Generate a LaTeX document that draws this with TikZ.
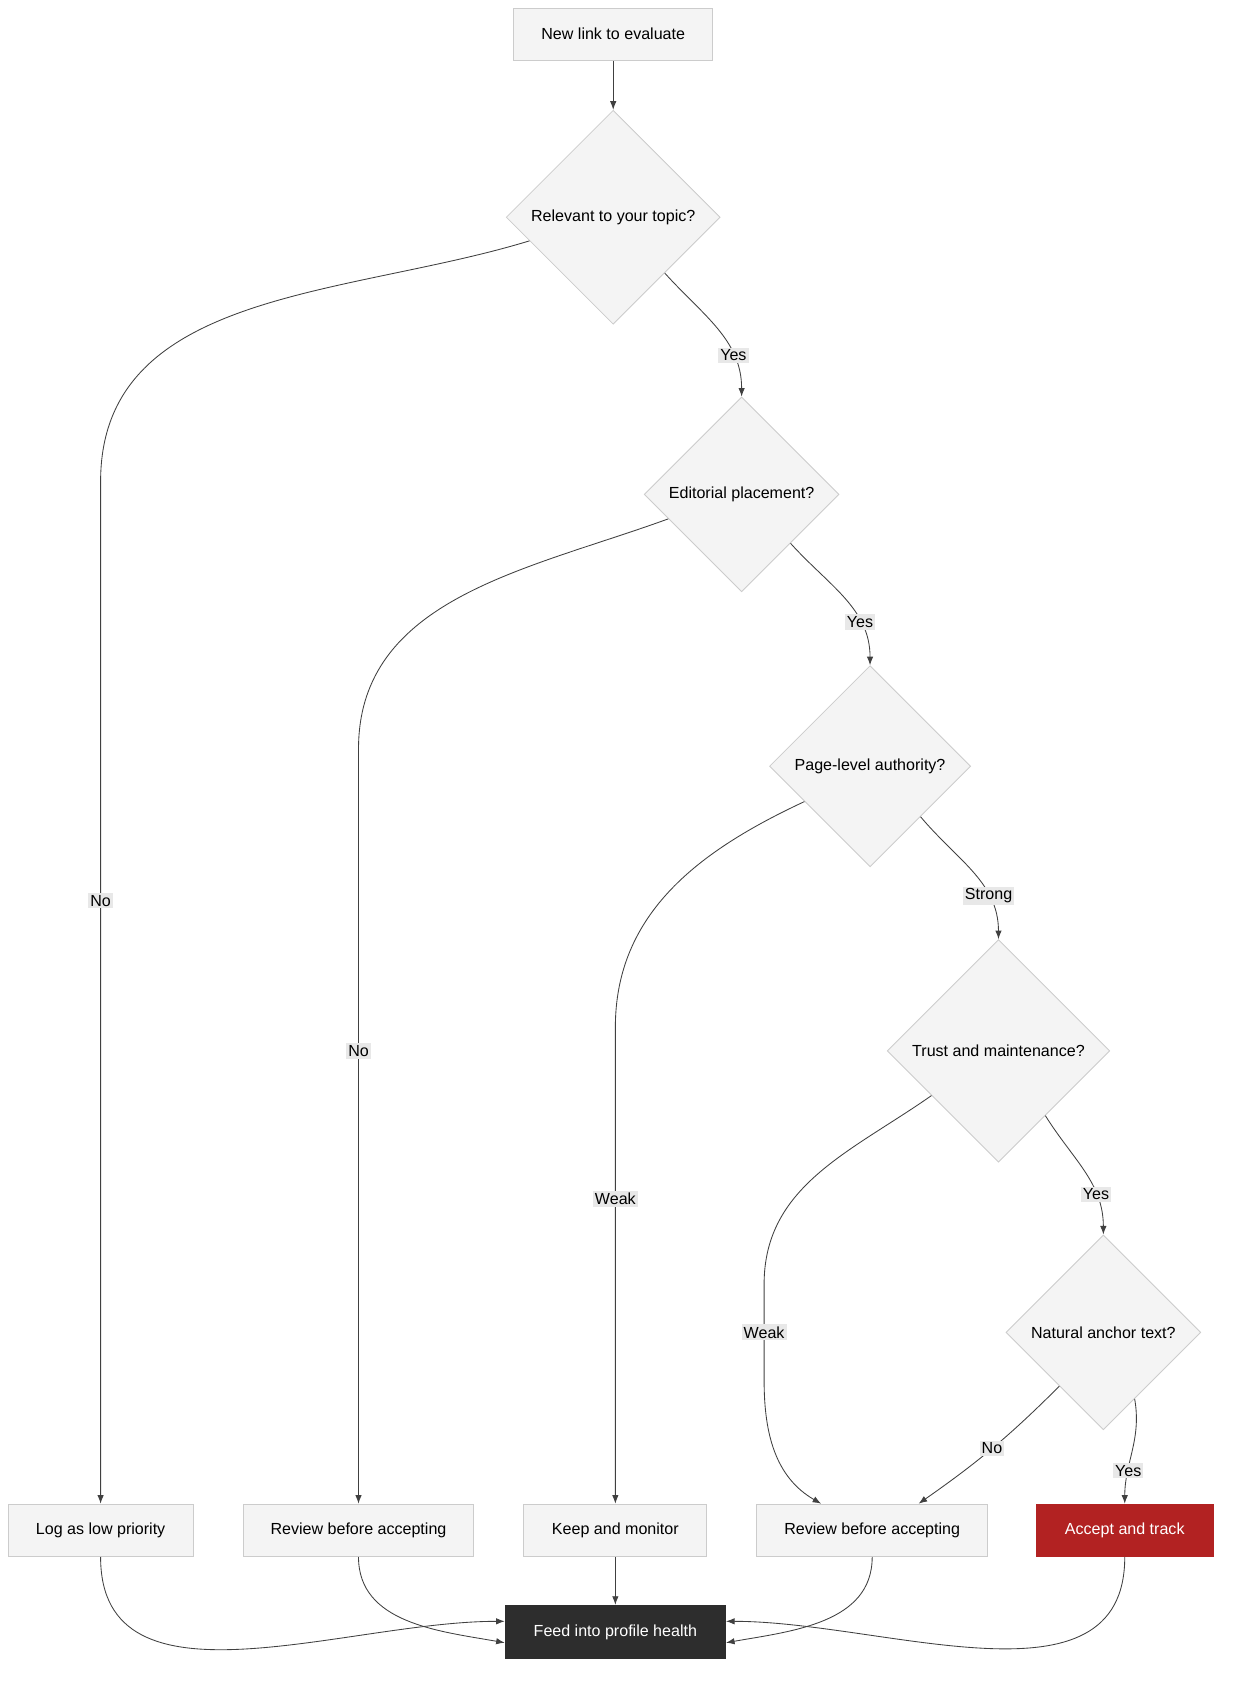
\documentclass[tikz,border=0pt]{standalone}
\usepackage{fontspec}
\setmainfont{Liberation Sans}
\usetikzlibrary{shapes.geometric,arrows.meta,positioning,calc}
\definecolor{boxfill}{HTML}{F4F4F4}
\definecolor{boxline}{HTML}{CCCCCC}
\definecolor{darkbox}{HTML}{2D2D2D}
\definecolor{redbox}{HTML}{B22222}
\definecolor{lblfill}{HTML}{E8E8E8}
\tikzset{
  stage/.style={rectangle,draw=boxline,fill=boxfill,minimum height=24.5pt,inner sep=0pt,font=\fontsize{7.5}{9}\selectfont},
  ask/.style={diamond,draw=boxline,fill=boxfill,aspect=1,inner sep=0pt,font=\fontsize{7.5}{9}\selectfont},
  link/.style={draw=black!75,line width=0.4pt,-{Latex[length=4pt,width=3pt]}},
  tag/.style={fill=lblfill,inner sep=1pt,font=\fontsize{7.5}{9}\selectfont}
}
\begin{document}
\begin{tikzpicture}[x=0.5pt,y=-0.5pt]
  \useasboundingbox (0,0) rectangle (1160,1582);

  \node[stage,minimum width=93pt] (start) at (573,32) {New link to evaluate};
  \node[ask,minimum size=100pt] (d1) at (573,203) {Relevant to your topic?};
  \node[ask,minimum size=91pt] (d2) at (693,462) {Editorial placement?};
  \node[ask,minimum size=94pt] (d3) at (813,716) {Page-level authority?};
  \node[ask,minimum size=104pt] (d4) at (933,982) {Trust and maintenance?};
  \node[ask,minimum size=91pt] (d5) at (1031,1245) {Natural anchor text?};

  \node[stage,minimum width=86.5pt] (low) at (94,1430) {Log as low priority};
  \node[stage,minimum width=107.5pt] (rev1) at (335,1430) {Review before accepting};
  \node[stage,minimum width=85.5pt] (keep) at (575,1430) {Keep and monitor};
  \node[stage,minimum width=108pt] (rev2) at (815,1430) {Review before accepting};
  \node[stage,minimum width=82.5pt,fill=redbox,draw=redbox,text=white] (acc) at (1051,1430) {Accept and track};
  \node[stage,minimum width=103pt,minimum height=25pt,fill=darkbox,draw=darkbox,text=white] (feed) at (575,1525) {Feed into profile health};

  % bends of the long branches
  \coordinate (k1) at (94,450);
  \coordinate (k2) at (335,700);
  \coordinate (k3) at (575,960);
  \coordinate (k4) at (714,1200);
  \coordinate (k5) at (714,1290);

  \draw[link] (start) -- (d1.north);

  \draw[link] ($(d1.west)!0.22!(d1.south)$) to[out=197,in=90] (k1) -- node[tag,pos=0.41]{No} (low.north);
  \draw[link] ($(d1.east)!0.52!(d1.south)$) to[out=-48,in=90] node[tag,pos=0.72]{Yes} (d2.north);

  \draw[link] ($(d2.west)!0.25!(d2.south)$) to[out=200,in=90] (k2) -- node[tag,pos=0.4]{No} (rev1.north);
  \draw[link] ($(d2.east)!0.5!(d2.south)$) to[out=-48,in=90] node[tag,pos=0.7]{Yes} (d3.north);

  \draw[link] ($(d3.west)!0.35!(d3.south)$) to[out=205,in=90] (k3) -- node[tag,pos=0.36]{Weak} (keep.north);
  \draw[link] ($(d3.east)!0.5!(d3.south)$) to[out=-50,in=90] node[tag,pos=0.7]{Strong} (d4.north);

  \draw[link] ($(d4.west)!0.4!(d4.south)$) to[out=215,in=90] (k4) -- node[tag]{Weak} (k5) to[out=-90,in=150] ($(rev2.north west)!0.28!(rev2.north east)$);
  \draw[link] ($(d4.east)!0.58!(d4.south)$) to[out=-58,in=90] node[tag,pos=0.7]{Yes} (d5.north);

  \draw[link] ($(d5.south)!0.45!(d5.west)$) to[out=-135,in=35] node[tag,pos=0.5]{No} ($(rev2.north west)!0.7!(rev2.north east)$);
  \draw[link] ($(d5.south)!0.32!(d5.east)$) to[out=-80,in=90] node[tag,pos=0.7]{Yes} (acc.north);

  \draw[link] (low.south) to[out=-90,in=180] ($(feed.west)+(0,-10)$);
  \draw[link] (rev1.south) to[out=-90,in=170] ($(feed.west)+(0,10)$);
  \draw[link] (keep.south) -- (feed.north);
  \draw[link] (rev2.south) to[out=-90,in=10] ($(feed.east)+(0,10)$);
  \draw[link] (acc.south) to[out=-90,in=0] ($(feed.east)+(0,-10)$);
\end{tikzpicture}
\end{document}
